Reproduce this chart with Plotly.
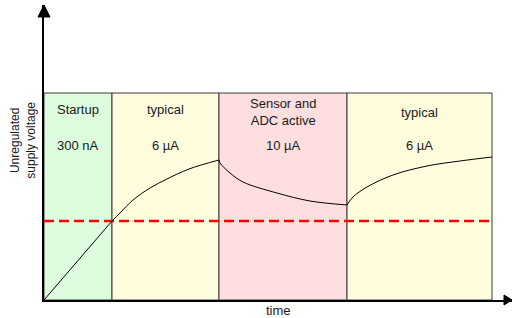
import plotly.graph_objects as go

# ---- data (arbitrary units: time, voltage) ----
phase_bounds = [0.0, 6.8, 17.5, 30.3, 44.8]
phase_names = ["Startup", "typical", "Sensor and<br>ADC active", "typical"]
phase_currents = ["300 nA", "6 µA", "10 µA", "6 µA"]
phase_colors = ["#DEFCDE", "#FFFDDE", "#FFDEE0", "#FFFDDE"]
box_top = 20.7
threshold = 7.9

startup_t = [0.0, 6.8]
startup_v = [0.0, 7.9]
charge1_t = [6.8, 7.6, 8.9, 10.6, 12.3, 14.5, 17.5]
charge1_v = [7.9, 8.7, 10.0, 11.2, 12.1, 13.1, 14.0]
active_t = [17.5, 17.6, 18.6, 19.9, 23.3, 26.6, 30.3]
active_v = [14.0, 13.7, 12.7, 11.8, 10.7, 9.9, 9.5]
charge2_t = [30.3, 30.9, 32.3, 34.9, 38.3, 41.6, 44.8]
charge2_v = [9.5, 10.3, 11.3, 12.5, 13.4, 13.9, 14.3]

name_y = [19.1, 19.1, 18.8, 18.8]
current_y = 15.5

FONT = "Liberation Sans, Arial, sans-serif"

fig = go.Figure()

shapes = []
for i in range(4):
    shapes.append(dict(type="rect", xref="x", yref="y",
                       x0=phase_bounds[i], x1=phase_bounds[i + 1], y0=0, y1=box_top,
                       fillcolor=phase_colors[i], line=dict(color="#3a3a3a", width=1),
                       layer="below"))

# threshold line
fig.add_trace(go.Scatter(x=[phase_bounds[0], phase_bounds[-1]], y=[threshold, threshold],
                         mode="lines", line=dict(color="#FF0000", width=2.5, dash="10px,5px"),
                         hoverinfo="skip", showlegend=False))

for tt, vv, shp in [(startup_t, startup_v, "linear"), (charge1_t, charge1_v, "spline"),
                    (active_t, active_v, "spline"), (charge2_t, charge2_v, "spline")]:
    fig.add_trace(go.Scatter(x=tt, y=vv, mode="lines", line=dict(color="black", width=1, shape=shp),
                             hoverinfo="skip", showlegend=False))

annotations = []
for i in range(4):
    xc = (phase_bounds[i] + phase_bounds[i + 1]) / 2
    annotations.append(dict(x=xc, y=name_y[i], xref="x", yref="y", text=phase_names[i],
                            xanchor="center", yanchor="middle",
                            showarrow=False, font=dict(family=FONT, size=13, color="#1a1a1a")))
    annotations.append(dict(x=xc, y=current_y, xref="x", yref="y", text=phase_currents[i],
                            xanchor="center", yanchor="middle",
                            showarrow=False, font=dict(family=FONT, size=13, color="#1a1a1a")))

annotations.append(dict(x=0, y=0.54, xref="paper", yref="paper", xshift=-21,
                        xanchor="center", yanchor="middle",
                        text="Unregulated<br>supply voltage", textangle=-90, showarrow=False,
                        font=dict(family=FONT, size=12, color="#1a1a1a")))
annotations.append(dict(x=0.5, y=0, xref="paper", yref="paper", yshift=-10,
                        xanchor="center", yanchor="middle",
                        text="time", showarrow=False,
                        font=dict(family=FONT, size=13, color="#1a1a1a")))

# arrowheads
shapes.append(dict(type="path", xref="paper", yref="paper", xsizemode="pixel", ysizemode="pixel",
                   xanchor=0, yanchor=1, path="M -6,-12 L 6,-12 L 0,0 Z",
                   fillcolor="black", line=dict(color="black", width=1)))
shapes.append(dict(type="path", xref="paper", yref="paper", xsizemode="pixel", ysizemode="pixel",
                   xanchor=1, yanchor=0, path="M -8,-5 L -8,5 L 0,0 Z",
                   fillcolor="black", line=dict(color="black", width=1)))

fig.update_layout(
    width=512, height=318,
    margin=dict(l=44, r=0, t=5, b=18),
    paper_bgcolor="white", plot_bgcolor="white",
    shapes=shapes, annotations=annotations,
    xaxis=dict(range=[0, 46.8], showgrid=False, zeroline=False, showticklabels=False,
               ticks="", showline=True, linecolor="black", linewidth=1.5, fixedrange=True),
    yaxis=dict(range=[0, 29.5], showgrid=False, zeroline=False, showticklabels=False,
               ticks="", showline=True, linecolor="black", linewidth=1.5, fixedrange=True),
)

fig.write_html("out.html", config={"displayModeBar": False},
               post_script="document.body.style.margin='0';document.body.style.overflow='hidden';")
